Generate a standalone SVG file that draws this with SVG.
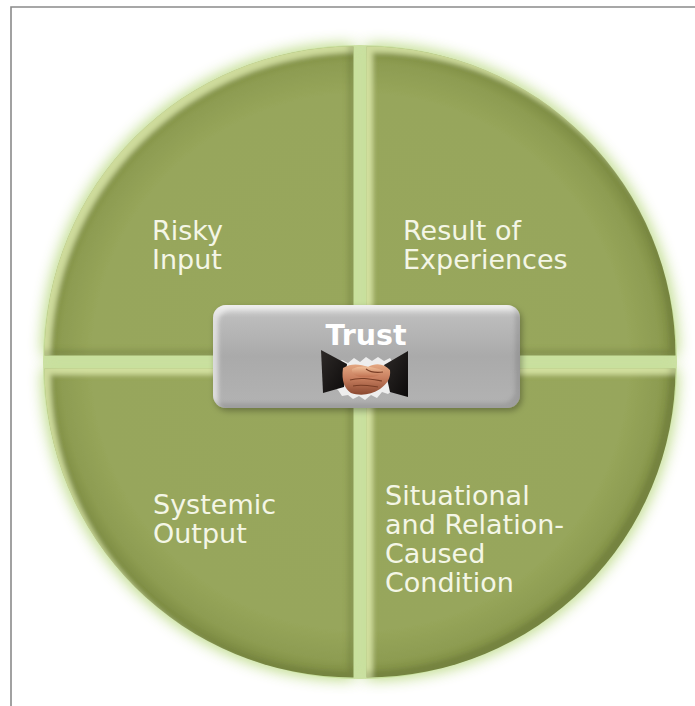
<svg xmlns="http://www.w3.org/2000/svg" width="695" height="706" viewBox="0 0 695 706">
<style>
.lbl{font-family:"DejaVu Sans","Liberation Sans",sans-serif;font-size:27px;fill:#f4f6e6}
.quad{fill:url(#qfill)}
.frame{stroke:#8a8a8a;stroke-width:1.6;fill:none}
</style>
<defs>
<radialGradient id="qfill" gradientUnits="userSpaceOnUse" cx="360" cy="362" r="312">
<stop offset="0" stop-color="#98a75c"/>
<stop offset="0.86" stop-color="#97a65b"/>
<stop offset="0.96" stop-color="#8d9c51"/>
<stop offset="1" stop-color="#808f46"/>
</radialGradient>
<filter id="qf" x="-15%" y="-15%" width="130%" height="130%">
<feGaussianBlur in="SourceAlpha" stdDeviation="8" result="glowb"/>
<feFlood flood-color="#c7e09a"/>
<feComposite in2="glowb" operator="in" result="glow"/>
<feGaussianBlur in="SourceAlpha" stdDeviation="2.5" result="b"/>
<feOffset in="b" dx="6" dy="6" result="dn"/>
<feComposite in="SourceAlpha" in2="dn" operator="out" result="hiA"/>
<feFlood flood-color="#e6f3b2" flood-opacity="0.7"/>
<feComposite in2="hiA" operator="in" result="hi"/>
<feOffset in="b" dx="-6" dy="-6" result="up"/>
<feComposite in="SourceAlpha" in2="up" operator="out" result="shA"/>
<feFlood flood-color="#55632a" flood-opacity="0.3"/>
<feComposite in2="shA" operator="in" result="sh"/>
<feMerge><feMergeNode in="glow"/><feMergeNode in="glow"/><feMergeNode in="SourceGraphic"/><feMergeNode in="hi"/><feMergeNode in="sh"/></feMerge>
</filter>
<linearGradient id="boxg" x1="0" y1="0" x2="0" y2="1">
<stop offset="0" stop-color="#dedede"/>
<stop offset="0.12" stop-color="#bcbcbc"/>
<stop offset="0.5" stop-color="#aaaaaa"/>
<stop offset="1" stop-color="#b3b3b3"/>
</linearGradient>
<filter id="bf" x="-10%" y="-20%" width="125%" height="150%">
<feGaussianBlur in="SourceAlpha" stdDeviation="3" result="sb"/>
<feOffset in="sb" dx="2" dy="3" result="so"/>
<feFlood flood-color="#000" flood-opacity="0.3"/>
<feComposite in2="so" operator="in" result="shadow"/>
<feGaussianBlur in="SourceAlpha" stdDeviation="2" result="b"/>
<feOffset in="b" dx="5" dy="5" result="dn"/>
<feComposite in="SourceAlpha" in2="dn" operator="out" result="hiA"/>
<feFlood flood-color="#ffffff" flood-opacity="0.5"/>
<feComposite in2="hiA" operator="in" result="hi"/>
<feOffset in="b" dx="-5" dy="-5" result="up"/>
<feComposite in="SourceAlpha" in2="up" operator="out" result="shA"/>
<feFlood flood-color="#555" flood-opacity="0.3"/>
<feComposite in2="shA" operator="in" result="sh"/>
<feMerge><feMergeNode in="shadow"/><feMergeNode in="SourceGraphic"/><feMergeNode in="hi"/><feMergeNode in="sh"/></feMerge>
</filter>
<linearGradient id="sleeve" x1="0" y1="0" x2="1" y2="1">
<stop offset="0" stop-color="#2e2a28"/>
<stop offset="1" stop-color="#0c0a0a"/>
</linearGradient>
<linearGradient id="skin" x1="0" y1="0" x2="0" y2="1">
<stop offset="0" stop-color="#e4a882"/>
<stop offset="0.45" stop-color="#c98060"/>
<stop offset="1" stop-color="#8a4830"/>
</linearGradient>
<linearGradient id="skin2" x1="0" y1="0" x2="0" y2="1">
<stop offset="0" stop-color="#f0c09a"/>
<stop offset="1" stop-color="#c07050"/>
</linearGradient>
</defs>

<rect x="0" y="0" width="695" height="706" fill="#ffffff"/>
<path class="frame" d="M11 706 V7 H695"/>

<circle cx="360" cy="362" r="317" fill="#c6dd9c" opacity="0.9"/>

<g id="node-risky-input">
<path class="quad" filter="url(#qf)" d="M353.5 355.5 H44.5 A309 309 0 0 1 353.5 46.5 Z"/>
<text class="lbl" x="152" y="240">Risky</text>
<text class="lbl" x="152" y="269">Input</text>
</g>
<g id="node-result-of-experiences">
<path class="quad" filter="url(#qf)" d="M366.5 355.5 V46.5 A309 309 0 0 1 675.5 355.5 Z"/>
<text class="lbl" x="403" y="240">Result of</text>
<text class="lbl" x="403" y="269">Experiences</text>
</g>
<g id="node-systemic-output">
<path class="quad" filter="url(#qf)" d="M353.5 368.5 V677.5 A309 309 0 0 1 44.5 368.5 Z"/>
<text class="lbl" x="153" y="514">Systemic</text>
<text class="lbl" x="153" y="543">Output</text>
</g>
<g id="node-situational">
<path class="quad" filter="url(#qf)" d="M366.5 368.5 H675.5 A309 309 0 0 1 366.5 677.5 Z"/>
<text class="lbl" x="385" y="505">Situational</text>
<text class="lbl" x="385" y="534">and Relation-</text>
<text class="lbl" x="385" y="563">Caused</text>
<text class="lbl" x="385" y="592">Condition</text>
</g>

<g id="node-trust">
<rect x="213" y="305" width="307" height="103" rx="13" fill="url(#boxg)" filter="url(#bf)"/>
<text x="366" y="345" text-anchor="middle" font-family="'DejaVu Sans','Liberation Sans',sans-serif" font-weight="bold" font-size="28.5" fill="#ffffff">Trust</text>
<g id="handshake">
<path d="M336 364 L342 360 L348 363 L354 358 L360 362 L366 357 L372 361 L378 357 L384 361 L390 358 L394 364 L396 372 L393 378 L397 384 L393 390 L388 394 L382 392 L377 398 L371 395 L365 400 L359 396 L353 399 L348 395 L342 396 L338 390 L333 386 L335 378 L332 372 Z" fill="#eeeeee"/>
<path d="M321 350 L347 364 L344 387 L323 393 Z" fill="url(#sleeve)"/>
<path d="M408 351 L408 397 L390 392 L384 365 Z" fill="url(#sleeve)"/>
<path d="M343 368 C351 363 360 364 368 367 C376 362 385 364 390 370 C391 378 387 384 380 389 C371 395 360 396 351 393 C345 389 341 381 343 368 Z" fill="url(#skin)"/>
<path d="M352 369 C360 365 372 366 384 371 C380 377 370 378 360 377 C355 376 351 373 352 369 Z" fill="url(#skin2)"/>
<path d="M350 380 C360 377 370 379 382 381 M353 386 C362 384 371 386 378 387 M366 369 C370 372 376 373 383 372" stroke="#7a3e26" stroke-width="1.1" fill="none"/>
</g>
</g>

<g id="connectors"/>
</svg>
